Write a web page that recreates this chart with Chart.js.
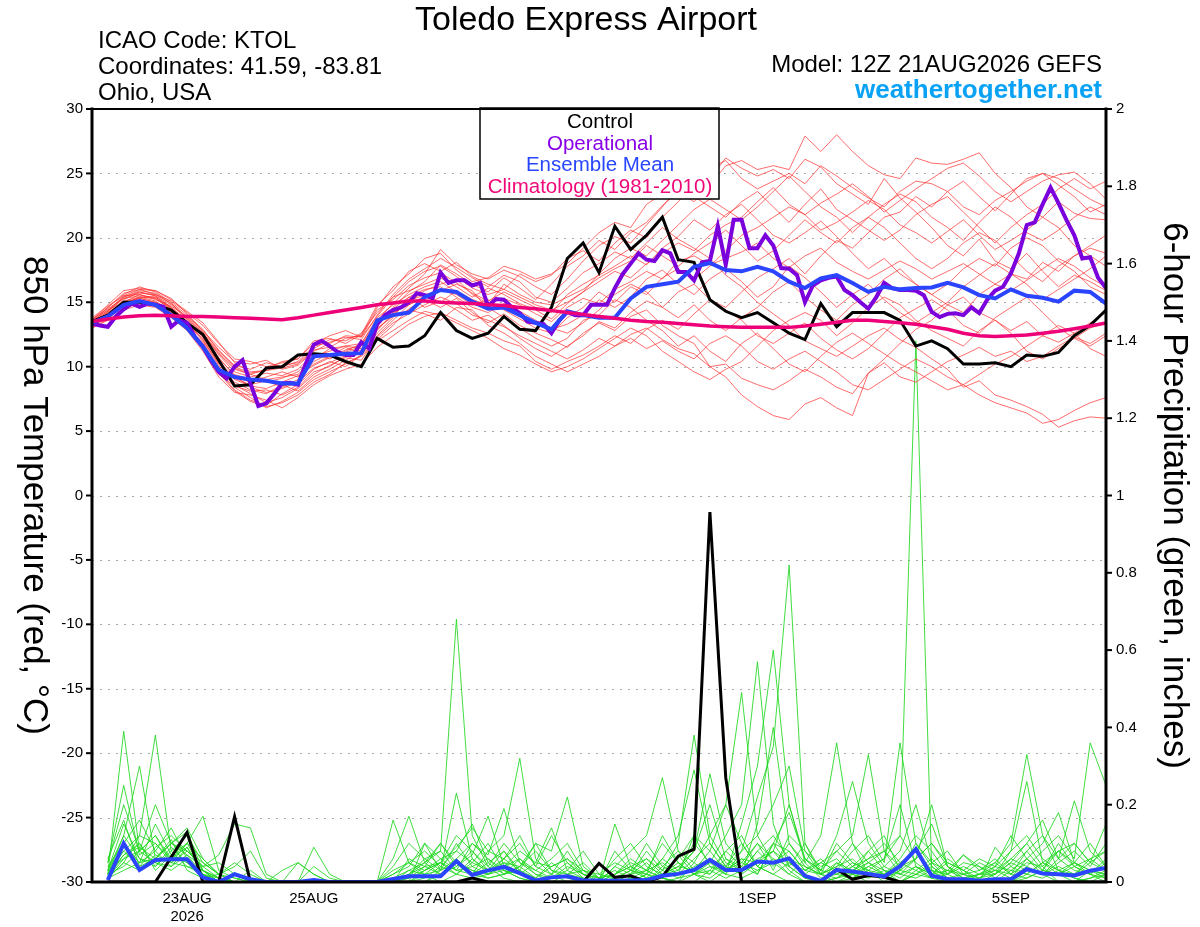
<!DOCTYPE html>
<html><head><meta charset="utf-8">
<script src="https://cdn.jsdelivr.net/npm/chart.js@4.4.1/dist/chart.umd.min.js"></script>
<style>html,body{margin:0;padding:0;background:#fff;}#wrap{width:1200px;height:927px;}</style>
</head><body><div id="wrap"><canvas id="c" width="1200" height="927"></canvas></div>
<script>
// ---------- texts ----------
const titleText = 'Toledo Express Airport';
const infoLines = ['ICAO Code: KTOL', 'Coordinates: 41.59, -83.81', 'Ohio, USA'];
const modelText = 'Model: 12Z 21AUG2026 GEFS';
const siteText = 'weathertogether.net';
const legendLabels = ['Control', 'Operational', 'Ensemble Mean', 'Climatology (1981-2010)'];
const leftAxisTitle = '850 hPa Temperature (red, °C)';
const rightAxisTitle = '6-hour Precipitation (green, inches)';

// ---------- axes ----------
const xTickHours = [36, 84, 132, 180, 252, 300, 348];           // hours after 12Z 21AUG
const xTickLabels = [['23AUG', '2026'], '25AUG', '27AUG', '29AUG', '1SEP', '3SEP', '5SEP'];
const tempTicks = [-30, -25, -20, -15, -10, -5, 0, 5, 10, 15, 20, 25, 30];
const tempTickLabels = ['-30', '-25', '-20', '-15', '-10', '-5', '0', '5', '10', '15', '20', '25', '30'];
const precipTicks = [0, 0.2, 0.4, 0.6, 0.8, 1, 1.2, 1.4, 1.6, 1.8, 2];
const precipTickLabels = ['0', '0.2', '0.4', '0.6', '0.8', '1', '1.2', '1.4', '1.6', '1.8', '2'];
const ensStepHours = 6;   // ensemble output interval
const opStepHours = 3;    // operational output interval

// ---------- main series (temperature, °C) ----------
const controlTemp = [13.5,14.0,15.0,15.0,14.8,14.4,13.4,12.5,10.5,8.5,
  8.6,9.9,10.0,10.9,11.0,10.9,10.4,10.0,12.2,11.5,
  11.6,12.4,14.2,12.8,12.2,12.6,13.9,12.9,12.8,14.6,
  18.4,19.6,17.3,20.9,19.1,20.2,21.6,18.3,18.1,15.2,
  14.3,13.8,14.2,13.4,12.6,12.1,14.9,13.1,14.2,14.2,
  14.2,13.6,11.6,12.0,11.4,10.2,10.2,10.3,10.0,10.9,
  10.8,11.1,12.4,13.2,14.4];
const meanTemp = [13.4,13.9,14.8,15.1,14.8,14.0,13.0,11.55,9.75,9.2,
  9.0,8.9,8.7,8.7,10.8,10.9,11.0,11.05,13.6,14.0,
  14.2,15.4,15.95,15.8,15.05,14.5,14.6,14.0,13.4,12.9,
  14.3,14.0,13.8,13.8,15.3,16.2,16.4,16.6,17.75,18.05,
  17.5,17.4,17.75,17.4,16.6,16.1,16.85,17.1,16.5,15.8,
  16.2,16.0,16.1,16.15,16.5,16.15,15.55,15.3,16.0,15.5,
  15.35,15.05,15.9,15.8,14.9];
const climoTemp = [13.5,13.7,13.85,13.95,14.0,13.95,13.9,13.9,13.85,13.8,
  13.75,13.7,13.65,13.8,14.0,14.2,14.4,14.6,14.8,14.95,
  15.1,15.1,15.0,14.95,14.9,14.8,14.75,14.6,14.5,14.35,
  14.2,14.05,13.9,13.75,13.6,13.5,13.45,13.35,13.25,13.15,
  13.1,13.05,13.05,13.05,13.05,13.15,13.3,13.45,13.6,13.6,
  13.5,13.4,13.3,13.1,12.9,12.6,12.4,12.35,12.4,12.45,
  12.6,12.75,12.95,13.15,13.4];
// operational run, 3-hourly
const operTemp = [13.36,13.2,13.1,13.9,14.45,14.9,14.65,14.9,14.8,14.65,
  13.1,13.6,13.4,12.3,11.55,10.5,9.6,9.1,10.0,10.5,
  8.7,6.95,7.15,7.9,8.7,8.75,8.6,10.25,11.7,12.0,
  11.6,11.15,10.9,10.9,11.9,11.4,13.3,14.0,14.4,14.6,
  15.0,15.7,15.55,15.3,17.3,16.5,16.7,16.7,16.3,16.5,
  14.7,15.25,15.2,14.6,14.15,13.5,13.4,13.3,12.6,13.6,
  14.25,14.0,14.0,14.8,14.8,14.8,16.1,17.2,18.0,18.8,
  18.3,18.2,19.05,18.8,17.35,17.35,16.7,18.1,18.2,20.9,
  17.9,21.4,21.4,19.2,19.2,20.2,19.4,17.65,17.6,17.1,
  15.0,16.3,16.7,16.9,17.0,15.95,15.55,15.0,14.5,15.4,
  16.5,16.1,15.95,15.95,15.9,15.55,14.25,13.85,14.1,14.15,
  14.0,14.6,14.15,15.2,15.9,16.2,17.25,18.8,21.0,21.2,
  22.6,23.9,22.7,21.4,20.2,18.4,18.5,16.9,16.1];

// ---------- main series (precipitation, inches per 6 h) ----------
const controlPrecip = [null,0,0,0,0,0.064,0.128,0,0,0.169,
  0,0,0,0,0,0,0,0,0,0,
  0,0,0,0,0.01,0,0,0,0,0,
  0,0,0.048,0.012,0.016,0,0.014,0.067,0.085,0.957,
  0.27,0,0,0,0,0,0,0.033,0.007,0.017,
  0.013,0,0,0,0,0,0,0,0,0,
  0,0,0,0,0];
const meanPrecip = [null,0.005,0.10,0.031,0.057,0.059,0.059,0.012,0.0,0.02,
  0.007,0,0,0,0.005,0,0,0,0,0.008,
  0.015,0.015,0.015,0.054,0.018,0.03,0.039,0.023,0.004,0.012,
  0.015,0.004,0.004,0.003,0.004,0.005,0.016,0.021,0.031,0.057,
  0.031,0.031,0.053,0.05,0.061,0.016,0.003,0.031,0.027,0.021,
  0.014,0.041,0.085,0.016,0.007,0.007,0.003,0.007,0.007,0.033,
  0.022,0.02,0.017,0.029,0.036];

// ---------- ensemble members: temperature ----------
const tMember01 = [13.2,14.1,15.2,15.8,15.5,14.6,13.6, 12.3,10.6,9.4,9.0,8.8,9.1,9.6, 10.8,11.2,11.6,11.4,13.2,14.6,15.8, 16.6,17.9,17.2,16.4,15.8,16.9,16.1,15.2, 16.4,17.8,18.6,19.8,19.1,20.4,21.2,22.5,23.6,22.8,24.1,25.6, 26.0,25.3,25.6,25.3,27.9,26.7,28.0,26.7,25.6,24.9,24.6,26.2, 25.8,25.7,26.1,26.6,25.0,23.9,22.4,21.6,22.8,21.9,21.5,21.4];
const tMember02 = [13.6,14.4,15.0,15.3,15.0,14.2,13.1, 11.6,9.8,8.6,7.9,7.2,7.6,8.3, 9.4,10.1,10.7,10.5,12.3,13.4,14.1, 14.8,15.4,14.9,14.0,13.6,13.1,12.4,11.8, 11.2,10.6,11.3,12.2,11.6,12.5,13.0,12.1,11.4,11.0,10.0,10.2, 9.1,8.6,8.2,8.9,9.8,9.2,8.4,7.9,9.5,10.3,9.2,8.8, 9.6,10.4,10.9,11.5,10.8,11.2,10.4,10.8,11.6,12.3,11.8,12.6];
const tMember03 = [13.4,14.6,15.6,16.2,15.8,15.0,14.0, 12.9,11.2,10.1,9.8,10.3,10.0,10.4, 11.6,11.9,12.3,12.1,14.0,15.6,16.8, 17.6,18.4,17.7,16.9,16.2,17.1,16.6,15.4, 15.0,16.1,17.3,18.0,18.9,18.4,19.6,20.8,19.9,19.2,18.4,17.1, 16.2,15.0,14.1,13.2,12.0,11.4,10.8,11.6,12.4,13.0,12.1,11.5, 10.6,9.8,8.4,8.9,7.8,7.4,6.9,6.3,5.3,5.8,6.1,6.0];
const tMember04 = [13.1,13.9,14.8,15.4,15.1,14.3,13.0, 11.9,10.1,8.4,7.6,6.8,7.3,8.0, 9.0,9.6,10.2,10.9,12.1,13.2,14.5, 15.2,14.6,15.3,14.2,13.4,14.1,13.2,12.6, 12.1,11.5,12.6,13.4,12.8,13.9,14.4,13.2,12.4,11.8,10.0,9.2, 7.8,6.9,6.2,5.9,7.1,7.6,6.8,6.2,9.5,10.6,11.8,12.9, 13.6,14.8,14.2,15.6,16.4,17.2,16.8,18.1,17.4,18.6,19.2,18.8];
const tMember05 = [13.3,14.2,15.4,15.9,15.7,14.9,13.8, 12.6,10.9,9.6,9.2,9.5,9.3,9.8, 11.0,10.6,11.2,11.8,13.6,14.9,16.1, 17.2,19.1,17.9,17.2,16.8,17.5,17.0,16.2, 15.6,16.8,18.2,19.4,20.1,19.6,21.0,22.4,24.0,23.1,24.6,26.2, 25.4,24.8,25.3,24.6,26.1,25.5,24.2,23.4,22.6,24.6,23.1,22.0, 20.8,19.4,18.6,19.9,18.2,17.6,18.8,17.4,16.2,17.1,16.6,15.9];
const tMember06 = [13.5,14.0,15.1,15.4,15.3,14.4,13.4, 12.0,10.3,9.1,8.6,8.9,8.4,9.0, 10.4,11.0,11.1,11.6,13.5,14.1,15.0, 15.9,16.4,16.8,15.6,14.9,15.3,14.8,14.1, 13.5,14.6,15.3,14.9,16.0,16.6,17.4,16.8,18.2,18.6,17.9,18.4, 18.9,19.6,18.4,17.7,18.6,19.2,18.1,17.4,16.8,17.5,18.2,17.6, 16.8,17.4,18.0,17.2,16.4,15.9,16.7,17.6,18.4,17.8,16.9,16.2];
const tMember07 = [13.2,13.8,14.6,15.0,14.8,14.1,13.2, 11.4,9.6,8.2,7.4,7.0,7.9,8.6, 9.8,10.4,10.0,10.9,12.6,13.8,15.4, 14.6,15.1,14.4,13.6,14.0,13.2,12.2,11.4, 10.8,11.6,12.4,13.5,13.0,14.2,15.1,14.6,15.8,16.4,15.2,14.6, 15.8,16.9,17.6,18.4,17.2,18.6,19.8,19.2,20.4,21.6,22.0,23.2, 22.4,23.6,24.4,23.2,22.1,23.4,24.6,25.0,24.1,23.2,22.0,22.6];
const tMember08 = [13.8,14.7,15.5,15.6,15.2,14.7,13.9, 12.8,11.5,10.4,10.2,10.5,9.8,10.1, 11.2,11.8,12.4,12.3,14.4,15.2,16.3, 16.9,17.3,16.5,15.7,15.1,15.8,15.2,14.6, 14.2,15.6,16.4,17.1,17.8,18.6,17.9,19.2,20.1,21.4,20.6,21.8, 22.6,21.4,20.2,19.6,20.4,21.3,20.1,18.8,17.6,18.4,17.2,16.4, 15.6,14.8,15.4,14.2,13.6,12.8,13.5,12.4,11.9,12.6,11.4,10.8];
const tMember09 = [13.0,13.6,14.4,14.8,14.6,13.8,12.8, 11.2,9.2,8.0,7.8,7.4,6.8,7.6, 8.6,9.3,9.8,10.2,11.5,12.4,13.3, 13.9,14.2,13.6,13.0,12.6,12.0,11.6,10.4, 9.8,10.4,10.9,11.6,12.4,11.8,12.9,13.6,12.9,14.1,15.2,14.4, 13.6,12.4,11.8,12.6,13.4,12.2,11.3,10.6,11.4,12.6,13.8,14.5, 15.2,14.4,13.2,12.6,13.8,14.6,15.4,14.2,13.0,12.2,11.6,12.4];
const tMember10 = [13.4,14.3,15.3,15.7,15.6,15.1,14.2, 13.2,11.8,10.6,10.4,10.0,10.3,10.6, 12.0,12.2,11.8,12.5,14.8,15.9,17.4, 18.0,17.4,18.1,17.0,16.4,16.0,17.2,16.6, 17.1,18.4,19.0,18.2,19.6,20.6,20.0,21.6,22.8,24.2,25.4,26.0, 24.6,23.8,24.4,25.0,24.2,25.6,24.8,23.9,23.1,22.4,23.6,24.4, 24.2,23.6,22.4,21.8,22.9,23.6,24.4,25.0,24.6,23.8,23.0,22.4];
const tMember11 = [13.7,14.5,15.3,15.5,15.4,14.5,13.3, 12.2,10.4,9.2,8.8,9.2,9.6,9.2, 10.2,10.8,11.5,11.0,12.8,14.2,14.8, 15.5,16.0,15.6,14.8,15.2,14.4,13.7,13.0, 12.6,13.8,14.6,15.8,15.0,16.2,15.6,16.9,17.6,16.8,17.8,19.0, 20.2,20.8,21.6,22.4,21.8,20.6,21.2,22.0,22.9,22.2,21.0,20.4, 19.6,20.5,21.4,20.2,19.1,19.8,20.6,21.6,20.8,19.4,18.6,17.8];
const tMember12 = [13.1,14.0,14.9,15.2,14.9,14.0,12.9, 11.8,9.9,8.8,8.2,7.9,8.6,8.1, 9.2,9.8,10.5,11.2,13.0,13.9,14.4, 14.1,13.6,14.6,14.4,13.2,12.6,11.8,10.8, 10.2,9.6,10.2,10.8,11.6,12.2,11.4,12.0,11.2,10.6,11.8,12.4, 11.6,10.4,9.8,10.6,11.2,10.4,9.6,8.6,8.2,9.0,9.8,10.6, 10.0,9.2,8.6,9.4,10.2,10.8,11.6,12.4,13.2,12.6,13.4,14.2];
const tMember13 = [13.6,14.8,15.9,16.1,15.9,15.2,14.3, 13.4,11.9,10.3,9.6,9.7,10.1,10.3, 11.4,12.1,12.0,12.6,14.2,15.4,15.9, 16.4,16.9,16.2,15.4,16.1,15.6,14.9,14.4, 13.7,14.9,15.8,16.6,17.4,16.9,18.0,18.8,19.6,19.0,20.2,21.0, 21.6,22.8,23.9,22.6,21.8,22.7,23.4,24.2,23.2,22.0,22.9,23.8, 24.6,25.4,25.8,24.8,23.6,22.8,23.6,24.4,24.9,25.1,24.2,23.0];
const tMember14 = [13.3,14.2,15.0,15.6,15.3,14.5,13.5, 12.4,10.7,9.3,8.4,8.0,8.3,8.8, 9.9,10.3,10.9,11.3,12.9,14.0,15.1, 15.6,15.9,16.4,15.9,14.4,14.8,14.0,13.4, 12.9,13.3,14.0,15.2,14.6,15.4,16.8,17.5,16.4,15.6,16.8,17.6, 16.6,15.4,16.2,17.8,16.9,15.8,14.6,15.6,16.4,15.2,14.2,13.4, 14.2,15.0,16.2,17.1,18.0,17.2,16.4,15.2,16.0,16.8,17.6,18.6];
const tMember15 = [13.2,13.9,14.9,15.3,15.0,14.2,13.1, 11.7,9.4,8.5,8.1,8.2,7.8,8.4, 9.6,10.0,10.8,11.0,12.4,13.6,14.8, 15.4,15.0,15.9,15.2,14.6,13.8,13.0,12.2, 11.6,12.2,13.6,14.0,15.2,14.6,13.6,12.8,11.6,12.4,11.2,10.4, 11.8,12.6,11.4,10.2,9.6,10.8,11.9,12.6,11.8,11.0,10.2,9.6, 8.9,8.2,8.6,7.8,7.2,6.8,6.4,5.6,5.9,6.6,7.2,7.6];
const tMember16 = [13.5,14.4,15.4,15.8,15.5,14.8,13.7, 12.5,11.0,9.8,9.4,9.0,9.2,9.4, 10.6,11.4,11.6,11.8,13.8,14.8,15.6, 16.2,16.6,15.8,15.2,14.8,16.4,15.6,15.0, 14.8,15.4,16.0,16.9,17.6,18.2,19.4,18.6,17.8,18.8,19.6,20.6, 19.4,18.2,19.0,20.2,21.4,20.4,19.6,20.8,21.6,22.6,23.4,22.8, 21.6,20.8,19.8,21.2,22.4,21.6,20.4,19.8,20.6,21.6,22.4,21.8];
const tMember17 = [13.4,14.3,15.5,16.0,15.9,15.3,14.1, 12.7,11.3,10.0,9.5,9.7,9.9,10.2, 11.3,11.5,12.2,12.4,14.6,16.2,17.2, 18.4,18.8,17.5,16.6,16.9,17.8,17.4,16.8, 17.2,18.0,19.2,20.4,21.2,20.8,22.6,23.4,24.1,23.2,22.4,21.6, 22.8,23.6,22.4,21.2,22.6,23.8,22.2,21.4,20.6,19.8,20.6,21.8, 22.6,23.2,22.0,20.8,19.6,20.8,21.8,22.6,23.8,24.6,23.8,24.4];
const tMember18 = [13.0,13.7,14.7,15.1,14.9,14.0,12.9, 11.5,9.5,8.1,7.3,6.9,7.2,7.8, 8.8,9.4,10.3,10.8,12.0,12.8,13.6, 14.3,14.0,13.4,12.8,12.2,11.4,10.9,10.2, 9.6,10.0,10.6,11.4,12.2,13.0,12.4,11.2,10.4,9.6,9.0,9.8, 10.4,11.6,12.8,13.6,14.2,13.6,12.4,13.4,14.6,15.4,14.8,13.6, 12.8,12.2,11.6,12.8,13.6,12.6,11.2,10.6,11.4,12.2,13.0,13.4];
const tMember19 = [13.6,14.6,15.7,16.0,15.6,14.9,13.8, 12.6,11.1,9.9,9.4,9.8,10.4,10.6, 11.8,12.4,12.8,12.3,13.9,15.4,16.6, 17.4,17.8,17.0,16.1,15.6,16.0,15.4,14.8, 14.4,15.0,15.8,17.2,18.4,19.2,18.6,19.8,21.0,22.2,23.0,22.2, 21.4,22.4,23.6,24.8,23.6,22.4,21.6,20.4,21.6,20.8,19.6,18.4, 17.6,18.4,19.6,20.4,19.8,18.6,17.4,16.6,17.8,18.6,19.4,20.2];
const tMember20 = [13.3,14.0,14.9,15.4,15.4,14.6,13.5, 12.1,10.2,9.0,8.5,8.3,8.8,9.3, 10.1,10.7,11.3,11.7,13.3,14.5,15.4, 16.0,16.2,15.4,14.6,14.2,14.9,14.3,13.6, 13.0,12.6,13.4,14.4,15.6,16.4,15.8,14.6,13.8,14.8,13.6,12.8, 13.8,14.6,15.8,16.6,15.4,14.4,13.6,14.8,15.6,16.8,17.6,16.4, 15.6,16.4,17.6,18.4,17.8,19.2,20.0,19.4,18.2,17.4,16.2,15.6];

// ---------- ensemble members: precipitation (steps 1..64) ----------
const pMember01 = [0.02,0.39,0.08,0.05,0.03,0.06,0.01,0, 0,0,0,0,0,0,0,0, 0,0,0,0.02,0.05,0.08,0.68,0.12, 0.04,0.01,0,0,0,0,0,0, 0,0.02,0.05,0.01,0,0,0.03,0.08, 0.12,0.04,0.02,0,0,0,0.01,0.03, 0.05,0.08,0.12,1.4,0.03,0,0,0, 0,0,0.01,0.03,0.02,0,0.01,0.02];
const pMember02 = [0.01,0.05,0.12,0.38,0.08,0.04,0.02,0, 0,0,0,0,0,0,0,0, 0,0,0,0,0,0.03,0.1,0.04, 0.02,0.06,0.03,0,0,0,0,0, 0.01,0,0,0.03,0.06,0.12,0.04,0.02, 0.08,0.22,0.35,0.82,0.1,0.02,0,0.01, 0.03,0,0,0.02,0.05,0.01,0,0, 0.02,0.06,0.1,0.04,0,0,0.03,0.01];
const pMember03 = [0.03,0.12,0.3,0.06,0.1,0.13,0.03,0, 0,0,0,0,0.05,0.02,0,0, 0,0,0,0,0.03,0.05,0.09,0.14, 0.08,0.12,0.32,0.06,0.02,0,0,0, 0,0,0.02,0.01,0,0.05,0.02,0.08, 0.04,0.1,0.06,0.02,0,0,0.05,0.02, 0,0,0.03,0.06,0.2,0.04,0,0.02, 0.05,0.1,0.33,0.12,0.03,0.01,0,0];
const pMember04 = [0.05,0.2,0.08,0.12,0.06,0.1,0.17,0.03, 0.01,0,0,0,0,0,0,0, 0,0,0.06,0.17,0.05,0.02,0.04,0.08, 0.03,0.05,0.02,0,0,0,0,0, 0,0,0.02,0.06,0.03,0.1,0.05,0.02, 0.15,0.3,0.6,0.2,0.05,0.01,0.02,0.04, 0.08,0.03,0,0.02,0.01,0,0,0, 0,0,0.02,0.05,0.08,0.04,0.02,0];
const pMember05 = [0.02,0.08,0.04,0.09,0.12,0.08,0.04,0.07, 0.15,0.14,0.02,0,0,0,0,0, 0,0,0,0,0.02,0.03,0.23,0.06, 0.02,0.03,0.01,0,0,0,0,0, 0.02,0.04,0.01,0.06,0.12,0.29,0.1,0.04, 0.02,0.05,0.08,0.03,0,0,0.01,0.02, 0.04,0.02,0,0.03,0.06,0.02,0,0, 0,0.01,0.04,0.08,0.12,0.06,0.36,0.25];
const pMember06 = [0.04,0.1,0.16,0.08,0.14,0.06,0.02,0, 0,0,0,0,0,0,0,0, 0,0,0,0.01,0.04,0.02,0.06,0.1, 0.07,0.19,0.05,0.02,0,0,0,0, 0.04,0.08,0.12,0.27,0.08,0.03,0.02,0.06, 0.03,0.08,0.04,0.1,0.05,0.12,0.36,0.1, 0.02,0.01,0.04,0.08,0.03,0,0,0, 0,0.03,0.06,0.02,0,0,0.01,0.03];
const pMember07 = [0.01,0.06,0.1,0.04,0.08,0.12,0.05,0.02, 0,0,0,0,0,0,0,0, 0,0,0.02,0.04,0.1,0.06,0.03,0.02, 0.05,0.08,0.03,0.1,0.08,0.22,0.04,0.01, 0,0,0,0.02,0.05,0.02,0,0.03, 0.06,0.02,0.1,0.04,0.01,0,0.03,0.08, 0.12,0.05,0.36,0.1,0.04,0.01,0.02,0.05, 0.03,0.01,0.06,0.1,0.18,0.05,0.02,0.01];
const pMember08 = [0.05,0.25,0.07,0.1,0.05,0.04,0.03,0, 0,0,0,0,0,0.09,0.02,0, 0,0,0,0,0,0.02,0.05,0.03, 0.01,0.02,0.06,0.03,0.01,0.04,0.02,0, 0.15,0.04,0.02,0,0.01,0.04,0.06,0.02, 0.01,0.03,0.05,0.02,0.06,0.03,0.08,0.12, 0.33,0.08,0.02,0.06,0.1,0.04,0.02,0, 0.01,0.04,0.08,0.12,0.06,0.21,0.08,0.04];
const pMember09 = [0.02,0.04,0.08,0.2,0.1,0.07,0.04,0.01, 0,0,0,0,0,0,0,0, 0,0,0.16,0.05,0.02,0,0.02,0.05, 0.1,0.03,0.01,0,0.02,0.05,0.01,0, 0,0.02,0.03,0.01,0,0.02,0.05,0.12, 0.2,0.57,0.15,0.04,0.01,0,0,0.02, 0.05,0.03,0.01,0.04,0.02,0.06,0.03,0, 0.09,0.04,0.02,0.05,0.03,0.01,0,0.02];
const pMember10 = [0.03,0.09,0.05,0.06,0.1,0.14,0.06,0.02, 0.01,0,0,0,0,0,0,0, 0,0,0,0,0.01,0.04,0.08,0.05, 0.03,0.06,0.1,0.04,0.12,0.05,0.02,0.01, 0.03,0.01,0,0.04,0.08,0.05,0.12,0.2, 0.49,0.12,0.05,0.08,0.03,0.02,0.04,0.06, 0.02,0.04,0.08,0.2,0.05,0.03,0.07,0.04, 0.02,0.05,0.1,0.16,0.06,0.03,0.02,0.05];
const pMember11 = [0.02,0.12,0.06,0.04,0.09,0.05,0.01,0.02, 0.04,0.08,0.01,0,0,0,0,0, 0,0,0.01,0.03,0.05,0.1,0.04,0.07, 0.17,0.04,0.06,0.02,0.01,0.03,0.08,0.02, 0.01,0.03,0.06,0.02,0.04,0.08,0.2,0.06, 0.04,0.02,0.1,0.18,0.06,0.03,0.12,0.26, 0.1,0.04,0.02,0.01,0.03,0.02,0.05,0.04, 0.01,0,0.03,0.02,0.05,0.08,0.04,0.1];
const pMember12 = [0.01,0.03,0.05,0.08,0.04,0.09,0.02,0, 0,0,0,0,0,0,0,0, 0,0,0,0.03,0.02,0.05,0.02,0.01, 0.02,0.04,0.08,0.05,0.14,0.03,0.01,0, 0,0.01,0.03,0.05,0.02,0.06,0.1,0.04, 0.02,0.15,0.4,0.1,0.04,0.02,0.05,0.03, 0.06,0.1,0.05,0.08,0.15,0.04,0.01,0.02, 0.04,0.08,0.26,0.05,0.02,0.04,0.06,0.03];
const pMember13 = [0.06,0.16,0.04,0.06,0.11,0.03,0.01,0, 0,0,0,0,0,0,0,0, 0,0,0,0,0.1,0.03,0.06,0.02, 0.01,0.02,0.04,0.01,0,0.02,0.03,0.01, 0.02,0.05,0.03,0.01,0.07,0.02,0.01,0.04, 0.08,0.12,0.2,0.3,0.08,0.02,0.01,0.04, 0.02,0.01,0.03,0.02,0.04,0.01,0,0.01, 0.02,0.05,0.03,0.02,0.04,0.02,0.06,0.08];
const pMember14 = [0.02,0.07,0.1,0.03,0.07,0.1,0.03,0.01, 0,0,0,0.03,0.05,0.02,0,0, 0,0,0.02,0.05,0.03,0.06,0.08,0.15, 0.05,0.02,0.03,0.01,0.04,0.06,0.02,0, 0.08,0.03,0.01,0.02,0.04,0.03,0.08,0.2, 0.1,0.04,0.02,0.05,0.03,0.06,0.02,0.01, 0.04,0.06,0.12,0.05,0.02,0.03,0.01,0.02, 0.03,0.02,0.05,0.04,0.08,0.1,0.05,0.15];
const pMember15 = [0.01,0.05,0.03,0.07,0.05,0.08,0.04,0.05, 0.02,0,0,0,0,0,0,0, 0,0,0,0.02,0.04,0.1,0.05,0.03, 0.02,0.05,0.04,0.1,0.03,0.01,0,0, 0.02,0.04,0.06,0.03,0.01,0.02,0.04,0.03, 0.05,0.03,0.06,0.04,0.1,0.03,0.02,0.05, 0.03,0.02,0.05,0.03,0.01,0.02,0.07,0.03, 0.05,0.02,0.01,0.03,0.02,0.05,0.03,0.02];
const pMember16 = [0.03,0.15,0.06,0.05,0.04,0.07,0.02,0.01, 0,0,0,0,0,0,0,0, 0,0,0,0.01,0.03,0.05,0.03,0.04, 0.06,0.03,0.02,0.01,0.05,0.02,0.01,0, 0.01,0.03,0.02,0.12,0.05,0.02,0.03,0.01, 0.03,0.06,0.08,0.05,0.02,0.05,0.03,0.02, 0.01,0.03,0.02,0.04,0.01,0.03,0.02,0.01, 0.04,0.03,0.02,0.01,0.03,0.02,0.05,0.03];
const pMember17 = [0.02,0.1,0.05,0.15,0.07,0.05,0.03,0, 0,0,0,0,0,0.04,0.01,0, 0,0,0,0.06,0.04,0.05,0.12,0.08, 0.04,0.1,0.05,0.03,0.06,0.1,0.03,0, 0.04,0.02,0.08,0.03,0.1,0.38,0.12,0.05, 0.03,0.08,0.12,0.06,0.04,0.02,0.1,0.05, 0.03,0.06,0.2,0.04,0.02,0.05,0.03,0.01, 0.03,0.06,0.04,0.02,0.06,0.1,0.05,0.08];
const pMember18 = [0.04,0.08,0.12,0.1,0.06,0.09,0.03,0.01, 0,0,0,0,0,0,0,0, 0,0,0,0.02,0.06,0.08,0.03,0.1, 0.06,0.02,0.04,0.08,0.03,0.02,0.05,0.01, 0.06,0.1,0.04,0.02,0.03,0.08,0.28,0.1, 0.05,0.1,0.03,0.12,0.08,0.04,0.06,0.02, 0.08,0.12,0.03,0.1,0.05,0.08,0.02,0.03, 0.06,0.02,0.08,0.03,0.1,0.04,0.02,0.06];
const pMember19 = [0.01,0.07,0.09,0.06,0.1,0.08,0.05,0.02, 0.05,0.02,0,0,0,0,0,0, 0,0,0.04,0.1,0.06,0.03,0.05,0.02, 0.08,0.06,0.12,0.04,0.02,0.08,0.02,0.01, 0.02,0.06,0.03,0.1,0.05,0.02,0.06,0.04, 0.1,0.04,0.08,0.2,0.06,0.02,0.04,0.1, 0.05,0.02,0.06,0.12,0.08,0.02,0.04,0.02, 0.02,0.08,0.12,0.06,0.03,0.05,0.1,0.04];
const pMember20 = [0.03,0.06,0.08,0.12,0.05,0.1,0.06,0.02, 0,0.03,0,0,0,0,0,0, 0,0,0.03,0.05,0.08,0.04,0.02,0.06, 0.03,0.08,0.02,0.05,0.04,0.06,0.03,0.02, 0.05,0.03,0.1,0.04,0.02,0.12,0.08,0.03, 0.06,0.05,0.1,0.08,0.03,0.05,0.08,0.04, 0.06,0.08,0.04,0.06,0.1,0.05,0.03,0.06, 0.04,0.12,0.06,0.03,0.08,0.05,0.03,0.02];

const tempMembers = [tMember01,tMember02,tMember03,tMember04,tMember05,tMember06,tMember07,tMember08,tMember09,tMember10,
  tMember11,tMember12,tMember13,tMember14,tMember15,tMember16,tMember17,tMember18,tMember19,tMember20];
const precipMembers = [pMember01,pMember02,pMember03,pMember04,pMember05,pMember06,pMember07,pMember08,pMember09,pMember10,
  pMember11,pMember12,pMember13,pMember14,pMember15,pMember16,pMember17,pMember18,pMember19,pMember20];

// ---------- style ----------
const FONT = "'Liberation Sans', Arial, Helvetica, sans-serif";
const colRed = 'rgba(255,45,45,0.7)';
const colGreen = 'rgba(30,215,30,0.85)';
const colControl = '#000000';
const colOper = '#7a00dc';
const colMean = '#2a44ff';
const colClimo = '#ee0078';
const legendColors = ['#000000', '#8a00e6', '#2846ff', '#f0087a'];

// ---------- build datasets ----------
const pts = (arr, step) => arr.map((v, i) => ({x: i * step, y: v}));
const datasets = [];
tempMembers.forEach(m => datasets.push({data: pts(m, ensStepHours), yAxisID: 'y', borderColor: colRed, borderWidth: 1, order: 20}));
precipMembers.forEach(m => datasets.push({data: pts([null].concat(m), ensStepHours), yAxisID: 'y2', borderColor: colGreen, borderWidth: 1, order: 20}));
datasets.push({data: pts(controlPrecip, ensStepHours), yAxisID: 'y2', borderColor: colControl, borderWidth: 3, order: 6});
datasets.push({data: pts(meanPrecip, ensStepHours), yAxisID: 'y2', borderColor: colMean, borderWidth: 4, order: 5});
datasets.push({data: pts(controlTemp, ensStepHours), yAxisID: 'y', borderColor: colControl, borderWidth: 3, order: 4});
datasets.push({data: pts(operTemp, opStepHours), yAxisID: 'y', borderColor: colOper, borderWidth: 4, order: 3});
datasets.push({data: pts(meanTemp, ensStepHours), yAxisID: 'y', borderColor: colMean, borderWidth: 4, order: 2});
datasets.push({data: pts(climoTemp, ensStepHours), yAxisID: 'y', borderColor: colClimo, borderWidth: 3.5, order: 1});
datasets.forEach(d => { d.pointRadius = 0; d.tension = 0; d.fill = false; d.borderJoinStyle = 'miter'; d.spanGaps = false; });

// ---------- decorations plugin ----------
const decor = {
  id: 'decor',
  beforeDatasetsDraw(chart) {
    const ctx = chart.ctx, ca = chart.chartArea, ys = chart.scales.y;
    ctx.save();
    ctx.strokeStyle = '#a8a8a8'; ctx.lineWidth = 1; ctx.setLineDash([2, 6]);
    tempTicks.forEach(v => {
      if (v === tempTicks[0] || v === tempTicks[tempTicks.length - 1]) return;
      const y = Math.round(ys.getPixelForValue(v)) + 0.5;
      ctx.beginPath(); ctx.moveTo(ca.left, y); ctx.lineTo(ca.right, y); ctx.stroke();
    });
    ctx.restore();
  },
  afterDatasetsDraw(chart) {
    const ctx = chart.ctx, ca = chart.chartArea, ys = chart.scales.y, ys2 = chart.scales.y2;
    ctx.save();
    // legend box
    const bx = 480, by = ca.top - 1, bw = 239, bh = 91;
    ctx.fillStyle = '#fff'; ctx.fillRect(bx, by, bw, bh);
    ctx.strokeStyle = '#000'; ctx.lineWidth = 1.5; ctx.strokeRect(bx, by, bw, bh);
    ctx.font = '20.5px ' + FONT; ctx.textAlign = 'center'; ctx.textBaseline = 'alphabetic';
    legendLabels.forEach((t, i) => { ctx.fillStyle = legendColors[i]; ctx.fillText(t, 600, 128 + i * 21.5); });
    // frame
    ctx.strokeStyle = '#000'; ctx.lineCap = 'square';
    ctx.lineWidth = 2;
    ctx.beginPath(); ctx.moveTo(ca.left, ca.top); ctx.lineTo(ca.right, ca.top); ctx.stroke();
    ctx.lineWidth = 3;
    ctx.beginPath(); ctx.moveTo(ca.left, ca.top); ctx.lineTo(ca.left, ca.bottom); ctx.lineTo(ca.right, ca.bottom); ctx.lineTo(ca.right, ca.top); ctx.stroke();
    // tick marks
    ctx.lineWidth = 2; ctx.lineCap = 'butt';
    tempTicks.forEach(v => { const y = ys.getPixelForValue(v); ctx.beginPath(); ctx.moveTo(ca.left - 6, y); ctx.lineTo(ca.left, y); ctx.stroke(); });
    precipTicks.forEach(v => { const y = ys2.getPixelForValue(v); ctx.beginPath(); ctx.moveTo(ca.right, y); ctx.lineTo(ca.right + 6, y); ctx.stroke(); });
    ctx.restore();
  },
  afterDraw(chart) {
    const ctx = chart.ctx, ca = chart.chartArea;
    ctx.save();
    ctx.fillStyle = '#000'; ctx.textBaseline = 'alphabetic';
    ctx.font = '34px ' + FONT; ctx.textAlign = 'center';
    ctx.fillText(titleText, 586, 30);
    ctx.font = '24px ' + FONT; ctx.textAlign = 'left';
    infoLines.forEach((t, i) => ctx.fillText(t, 98, 48 + i * 26));
    ctx.textAlign = 'right';
    ctx.fillText(modelText, 1102, 72);
    ctx.font = 'bold 26px ' + FONT; ctx.fillStyle = '#0aa2f5';
    ctx.fillText(siteText, 1102, 98);
    // axis titles (both read top to bottom)
    const cy = (ca.top + ca.bottom) / 2;
    ctx.fillStyle = '#000'; ctx.font = '35px ' + FONT; ctx.textAlign = 'center'; ctx.textBaseline = 'middle';
    ctx.save(); ctx.translate(34, cy); ctx.rotate(Math.PI / 2); ctx.fillText(leftAxisTitle, 0, 0); ctx.restore();
    ctx.save(); ctx.translate(1174, cy); ctx.rotate(Math.PI / 2); ctx.fillText(rightAxisTitle, 0, 0); ctx.restore();
    ctx.restore();
  }
};

new Chart(document.getElementById('c'), {
  type: 'line',
  data: {datasets},
  options: {
    responsive: false, animation: false, devicePixelRatio: 1,
    layout: {padding: {top: 109, left: 0, right: 0, bottom: 0}},
    plugins: {legend: {display: false}, tooltip: {enabled: false}},
    scales: {
      x: {
        type: 'linear', min: 0, max: 384,
        afterBuildTicks: s => { s.ticks = xTickHours.map(v => ({value: v})); },
        afterFit: s => { s.height = 45; },
        ticks: {autoSkip: false, maxRotation: 0, minRotation: 0, padding: 8, color: '#000',
          font: {family: FONT, size: 15}, callback: (v, i) => xTickLabels[i]},
        grid: {display: false, drawTicks: false}, border: {display: false}
      },
      y: {
        position: 'left', min: -30, max: 30,
        afterBuildTicks: s => { s.ticks = tempTicks.map(v => ({value: v})); },
        afterFit: s => { s.width = 92; },
        ticks: {padding: 9, color: '#000', font: {family: FONT, size: 15}, callback: (v, i) => tempTickLabels[i]},
        grid: {display: false, drawTicks: false}, border: {display: false}
      },
      y2: {
        position: 'right', min: 0, max: 2,
        afterBuildTicks: s => { s.ticks = precipTicks.map(v => ({value: v})); },
        afterFit: s => { s.width = 94; },
        ticks: {padding: 10, color: '#000', font: {family: FONT, size: 15}, callback: (v, i) => precipTickLabels[i]},
        grid: {display: false, drawTicks: false}, border: {display: false}
      }
    }
  },
  plugins: [decor]
});
</script>
</body></html>
